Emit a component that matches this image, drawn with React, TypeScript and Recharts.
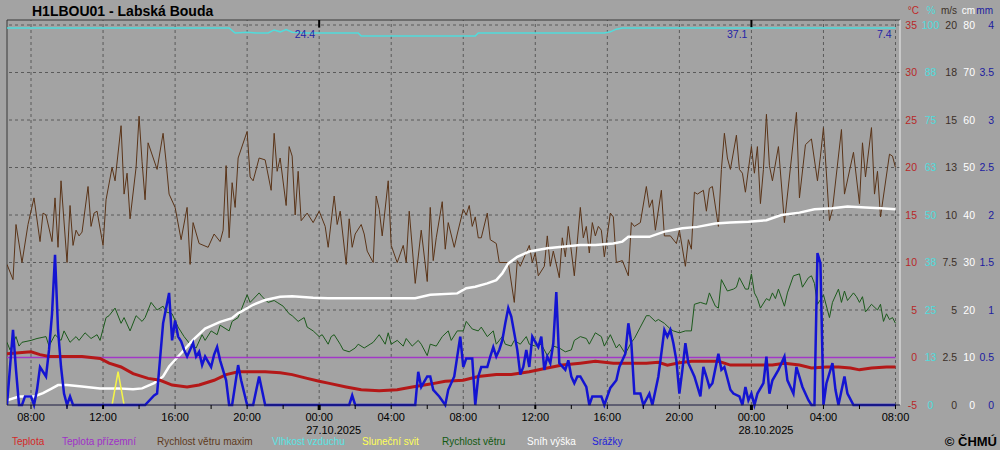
import React from "react";
import { ComposedChart, Line, XAxis, YAxis, ReferenceLine, ReferenceDot } from "recharts";

type Pt = [number, number];

// x = 10-minute step index, step 0 = 26.10.2025 06:40
const START_DAY = 26;
const START_MIN = 400;
const X_MAX = 297.5;

const temperature: Pt[] = [[0,0.4],[8,0.6],[11,0.3],[14,0.1],[20,0.1],[25,0.1],[31,-0.1],[34,-0.6],[38,-1.0],[42,-1.7],[47,-2.2],[51,-2.4],[55,-2.9],[60,-3.1],[64,-2.9],[69,-2.4],[73,-1.8],[77,-1.5],[82,-1.5],[86,-1.5],[91,-1.6],[95,-1.8],[100,-2.2],[104,-2.5],[107,-2.7],[113,-3.1],[118,-3.4],[124,-3.5],[130,-3.4],[135,-3.1],[141,-2.8],[146,-2.5],[152,-2.4],[157,-2.0],[163,-1.8],[168,-1.8],[174,-1.5],[180,-1.1],[185,-0.8],[191,-0.6],[196,-0.4],[202,-0.6],[207,-0.6],[213,-0.6],[217,-0.5],[220,-0.8],[224,-0.55],[228,-0.4],[233,-0.4],[237,-0.4],[241,-0.8],[246,-0.8],[250,-0.8],[255,-0.8],[259,-0.6],[264,-0.8],[268,-1.1],[273,-1.0],[277,-1.0],[281,-1.1],[284,-1.3],[288,-1.1],[293,-1.0],[296,-1.0]];

const groundTemp: Pt[] = [[0,0],[296,0]];

const windMax: Pt[] = [[0,7.4],[2,6.6],[3,9.5],[5,7.5],[7,9.5],[9,10.9],[11,8.6],[12,10.1],[13,10.0],[15,8.6],[16,10.9],[17,8.3],[18,11.8],[20,7.5],[21,10.5],[22,8.4],[23,9.2],[24,8.9],[25,9.1],[27,11.5],[28,9.4],[29,10.1],[30,10.2],[32,8.4],[33,10.8],[35,12.5],[36,11.8],[38,14.7],[39,11.1],[40,12.2],[41,9.8],[43,12.5],[44,15.2],[45,12.8],[46,10.8],[47,13.8],[50,12.4],[52,14.3],[53,12.8],[54,11.1],[56,10.4],[58,8.7],[60,10.4],[61,7.4],[62,9.6],[64,8.5],[67,8.3],[69,9.0],[71,8.6],[72,9.2],[73,12.6],[74,8.8],[75,11.7],[76,10.4],[77,13.0],[80,14.4],[81,12.0],[82,11.8],[84,13.0],[86,12.9],[88,11.3],[89,14.3],[90,12.3],[91,13.0],[93,10.5],[94,13.6],[95,13.1],[96,10.0],[97,12.3],[98,9.7],[100,10.1],[102,9.6],[104,10.2],[106,9.4],[107,8.3],[109,11.0],[110,9.5],[111,10.2],[113,7.4],[114,9.8],[115,8.3],[116,9.0],[118,9.5],[119,9.0],[120,8.1],[122,7.5],[123,11.0],[124,10.3],[125,8.9],[127,11.8],[128,8.4],[130,7.5],[132,8.4],[133,7.5],[134,10.2],[136,6.4],[138,9.2],[140,6.5],[141,10.4],[142,7.6],[143,8.8],[145,10.7],[146,8.2],[147,9.6],[149,8.3],[150,9.0],[152,10.3],[153,10.0],[154,10.5],[155,9.4],[156,9.9],[157,8.8],[158,8.8],[160,10.1],[161,8.7],[163,8.5],[164,7.5],[167,7.5],[169,5.4],[170,7.6],[171,7.3],[174,8.4],[175,7.5],[176,8.0],[177,6.8],[179,7.3],[180,8.9],[181,7.3],[182,8.1],[184,6.7],[185,8.8],[186,7.8],[187,9.4],[189,6.8],[191,10.4],[192,8.8],[193,9.4],[194,8.0],[195,9.6],[196,8.9],[197,9.4],[198,9.2],[199,7.8],[201,10.1],[202,9.9],[203,7.5],[205,7.6],[207,6.8],[208,9.6],[209,9.4],[211,9.6],[213,11.5],[214,10.4],[215,10.8],[216,9.2],[218,11.3],[219,8.9],[221,8.9],[223,8.5],[224,9.2],[226,7.3],[227,8.7],[228,8.2],[229,11.2],[230,11.1],[232,11.3],[233,10.2],[234,11.4],[235,11.5],[237,9.4],[238,12.4],[239,14.3],[240,13.0],[241,12.4],[243,14.2],[244,12.4],[245,12.2],[246,11.2],[248,13.6],[249,12.2],[250,13.6],[251,10.6],[252,12.4],[253,15.3],[254,12.6],[255,11.8],[257,13.6],[259,9.6],[261,12.5],[263,15.4],[264,10.9],[266,13.7],[268,14.0],[270,11.8],[271,13.1],[272,14.6],[274,9.7],[275,10.3],[278,14.5],[279,11.1],[282,13.3],[284,10.6],[285,13.8],[286,12.0],[288,14.6],[289,11.1],[290,12.3],[291,9.9],[294,13.2],[295,13.1],[296,12.5]];

const humidity: Pt[] = [[0,99.2],[74,99.2],[76,97.9],[80,98.1],[83,97.9],[87,97.9],[89,98.7],[91,98.2],[93,98.8],[95,98.1],[100,97.9],[117,97.9],[118,97.1],[156,97.1],[157,97.9],[199,97.9],[201,98.2],[203,98.9],[205,99.2],[296,99.2]];

const sunshine: Pt[] = [[35,0],[37,0.35],[39,0]];

const wind: Pt[] = [[0,3.3],[1,2.9],[3,3.6],[4,3.1],[5,3.3],[8,3.4],[10,3.5],[13,3.6],[14,3.1],[16,3.7],[18,3.4],[19,3.9],[21,3.3],[23,3.6],[24,3.4],[26,3.8],[28,3.5],[30,3.7],[31,3.4],[33,4.6],[34,4.7],[36,5.1],[38,4.3],[39,4.6],[41,3.9],[43,4.7],[45,4.4],[46,4.6],[48,5.4],[50,5.0],[52,5.2],[53,4.9],[55,4.8],[57,4.1],[59,3.6],[61,3.2],[63,3.0],[65,3.7],[66,3.4],[68,3.9],[70,3.7],[71,4.2],[74,3.9],[75,4.4],[77,4.6],[80,5.8],[81,5.4],[84,5.9],[85,5.7],[87,5.4],[89,5.5],[90,5.4],[92,5.2],[94,4.8],[95,4.7],[97,4.4],[99,4.6],[100,4.1],[102,3.9],[104,3.6],[105,3.7],[107,3.2],[108,3.6],[109,3.7],[111,3.2],[112,2.9],[114,2.8],[116,3.0],[117,3.2],[119,3.0],[121,3.2],[122,3.3],[124,3.7],[126,3.2],[127,3.8],[128,3.2],[130,3.4],[132,3.1],[133,3.5],[135,3.1],[137,3.4],[138,3.2],[140,2.6],[141,3.2],[143,3.1],[145,3.6],[147,3.9],[148,3.4],[150,3.9],[152,3.9],[153,4.4],[155,4.0],[157,3.9],[158,4.1],[160,3.6],[162,3.9],[163,3.2],[165,3.6],[166,3.2],[168,3.1],[169,3.4],[171,3.2],[173,3.6],[174,3.2],[176,3.1],[178,3.2],[180,2.6],[182,3.1],[184,3.0],[186,2.8],[188,2.9],[189,3.4],[191,3.6],[193,3.5],[194,3.2],[196,3.8],[198,3.6],[199,3.1],[201,3.7],[203,3.0],[204,3.2],[206,2.7],[208,3.3],[209,3.5],[211,4.1],[213,4.7],[214,4.7],[216,4.4],[217,4.5],[219,4.3],[221,4.0],[222,3.9],[224,3.8],[226,3.9],[228,3.9],[229,5.3],[231,5.4],[233,5.3],[234,5.9],[236,5.2],[237,5.1],[238,6.6],[240,6.0],[242,6.1],[243,6.2],[244,6.7],[246,6.1],[247,6.1],[248,6.9],[249,5.9],[250,5.6],[251,5.1],[253,5.6],[254,5.5],[255,5.9],[256,5.6],[257,6.1],[259,5.2],[260,5.9],[262,6.8],[264,6.9],[265,6.2],[267,6.7],[268,6.8],[269,6.4],[270,5.3],[272,5.8],[274,4.6],[275,5.4],[277,6.1],[278,5.4],[279,6.0],[280,5.5],[282,5.9],[283,5.7],[284,5.4],[285,5.7],[286,4.9],[288,5.3],[290,5.0],[291,5.3],[292,4.4],[293,4.8],[294,4.5],[295,4.6],[296,4.3]];

const snow: Pt[] = [[0,1.0],[4,1.8],[9,1.8],[12,2.5],[15,3.5],[17,4.2],[20,4.2],[25,3.9],[31,3.5],[37,3.5],[42,3.3],[45,3.5],[49,4.6],[52,6.0],[54,8.1],[58,10.9],[62,13.7],[66,16.1],[71,17.5],[75,18.3],[77,19.3],[82,21.1],[86,22.1],[91,22.8],[95,22.9],[102,22.6],[107,22.5],[118,22.5],[127,22.5],[136,22.5],[141,23.2],[150,23.5],[153,24.6],[156,24.9],[160,25.6],[163,26.3],[165,27.7],[167,29.8],[170,31.2],[174,32.3],[180,33.0],[185,33.3],[191,33.7],[196,33.7],[202,34.0],[205,34.4],[207,35.4],[214,35.4],[219,36.5],[225,37.2],[230,37.5],[236,38.2],[241,38.4],[247,38.6],[253,38.9],[258,40.0],[264,40.5],[269,41.2],[275,41.4],[280,41.8],[286,41.6],[291,41.4],[296,41.2]];

const precip: Pt[] = [[0,0],[2,0.79],[3,0.37],[4,0],[5,0],[6,0.09],[8,0.09],[9,0],[10,0.16],[11,0.40],[13,0.30],[14,0.58],[15,0.96],[16,1.58],[17,0.79],[18,0.40],[19,0.12],[20,0],[21,0.09],[22,0],[46,0],[49,0.10],[50,0.12],[52,0.86],[54,1.18],[55,0.68],[56,0.89],[57,0.72],[58,0.67],[59,0.58],[60,0.51],[62,0.65],[63,0.51],[64,0.56],[65,0.42],[66,0.51],[68,0.40],[69,0.53],[70,0.61],[71,0.47],[73,0.26],[74,0],[75,0],[77,0.42],[78,0.26],[80,0],[82,0],[84,0.30],[86,0],[114,0],[115,0.10],[116,0],[136,0],[137,0.35],[138,0.19],[140,0.30],[141,0.30],[142,0.16],[144,0.09],[146,0],[147,0.16],[149,0.30],[151,0.72],[152,0.40],[153,0.49],[155,0.49],[156,0],[157,0.30],[158,0.40],[160,0.40],[161,0.51],[162,0.61],[163,0.51],[164,0.58],[165,0.68],[166,0.86],[167,1.02],[168,0.93],[170,0.58],[171,0.32],[172,0.40],[173,0.58],[174,0.40],[175,0.72],[177,0.61],[178,0.72],[179,0.37],[180,0.51],[181,0.44],[182,0.65],[183,1.19],[184,0.44],[186,0.37],[187,0.47],[188,0.30],[189,0.23],[190,0.30],[191,0.30],[193,0.19],[194,0],[195,0.09],[196,0.09],[198,0.09],[199,0],[201,0.18],[203,0.26],[204,0.40],[206,0.54],[207,0.86],[208,0.65],[209,0.12],[211,0.12],[212,0],[214,0.12],[215,0],[217,0.30],[219,0.79],[220,0.72],[221,0.79],[222,0.65],[223,0.47],[224,0.12],[225,0.37],[226,0.65],[227,0.44],[228,0.37],[229,0.30],[231,0.09],[232,0.40],[233,0.30],[234,0.19],[235,0.23],[237,0.54],[238,0.37],[239,0.40],[241,0.16],[242,0.12],[244,0.09],[245,0],[246,0.19],[247,0.05],[248,0.12],[249,0],[250,0.12],[252,0.23],[253,0.51],[254,0.12],[255,0.26],[257,0.37],[259,0.51],[260,0.26],[262,0.12],[263,0.40],[265,0.19],[267,0.05],[268,0],[269,0],[270,1.60],[271,1.49],[272,0],[273,0.23],[275,0.44],[276,0.16],[277,0],[279,0.30],[280,0.12],[282,0],[296,0]];

const dailyPrecip = [
  { k: 104, label: "24.4" },
  { k: 248, label: "37.1" },
  { k: 296, label: "7.4" },
];

const tempTicks = [-5, 0, 5, 10, 15, 20, 25, 30, 35];
const pctTicks = [0, 12.5, 25, 37.5, 50, 62.5, 75, 87.5, 100];
const pctTickLabels = ["0", "13", "25", "38", "50", "63", "75", "88", "100"];
const msTicks = [0, 2.5, 5, 7.5, 10, 12.5, 15, 17.5, 20];
const msTickLabels = ["0", "2.5", "5", "7.5", "10", "13", "15", "18", "20"];
const cmTicks = [0, 10, 20, 30, 40, 50, 60, 70, 80];
const mmTicks = [0, 0.5, 1, 1.5, 2, 2.5, 3, 3.5, 4];
const mmTickLabels = ["0", "0.5", "1", "1.5", "2", "2.5", "3", "3.5", "4"];
const xTicks = [8, 20, 32, 44, 56, 68, 80, 92, 104, 116, 128, 140, 152, 164, 176, 188, 200, 212, 224, 236, 248, 260, 272, 284, 296];
const gridSteps = [8, 32, 56, 80, 104, 128, 152, 176, 200, 224, 248, 272, 296];
const midnightSteps = [104, 248];

const legendItems = [
  { name: "Teplota", color: "#d42828" },
  { name: "Teplota přízemní", color: "#a030c8" },
  { name: "Rychlost větru maxim", color: "#5e3a1c" },
  { name: "Vlhkost vzduchu", color: "#58e4e4" },
  { name: "Sluneční svit", color: "#ffff58" },
  { name: "Rychlost větru", color: "#125a12" },
  { name: "Sníh výška", color: "#ffffff" },
  { name: "Srážky", color: "#2424d8" },
];
const legendX = [12, 62, 157, 272, 362, 442, 527, 592];

const FONT = '"Liberation Sans", Arial, sans-serif';
const BG = "#a3a3a3";
const GRID = "#5a5a5a";

// axis ids sort alphabetically in the layout, so they carry an order prefix
const AX_C = "a_degC";
const AX_PCT = "b_pct";
const AX_MS = "c_ms";
const AX_CM = "d_cm";
const AX_MM = "e_mm";

// plot frame extends 5px above the top tick line (380px between -5 and 35)
const frameTop = (min: number, max: number) => min + ((max - min) * 385) / 380;
const TEMP_TOP = frameTop(-5, 35);

const rows = (pts: Pt[]) => pts.map(([k, v]) => ({ k, v }));

const rightTick =
  (color: string, dx: number, anchor: "start" | "middle" | "end", ticks?: number[], labels?: string[]) =>
  (props: any) => {
    const { x, y, payload } = props;
    const idx = ticks ? ticks.indexOf(payload.value) : -1;
    const txt = labels && idx >= 0 ? labels[idx] : String(payload.value);
    return (
      <text x={x + dx} y={y} dy="0.36em" textAnchor={anchor} fill={color} fontSize={10.5} fontFamily={FONT}>
        {txt}
      </text>
    );
  };

const TimeTick = (props: any) => {
  const { x, y, payload } = props;
  const k: number = payload.value;
  const m = START_MIN + k * 10;
  const day = Math.floor(m / 1440);
  const inDay = m % 1440;
  const hh = Math.floor(inDay / 60);
  const midnight = inDay === 0;
  const noon = inDay === 720;
  const labeled = (k - 8) % 24 === 0;
  return (
    <g>
      <line x1={x} x2={x} y1={y} y2={y + (midnight ? 5 : 4)} stroke="#000" strokeWidth={midnight ? 3 : noon ? 2 : 1} />
      {labeled && (
        <text x={x} y={y + 16} textAnchor="middle" fontSize={11} fill="#000" fontFamily={FONT}>
          {`${String(hh).padStart(2, "0")}:00`}
        </text>
      )}
      {labeled && midnight && (
        <text x={x - 13} y={y + 29} fontSize={11} fill="#000" fontFamily={FONT}>
          {`${START_DAY + day}.10.2025`}
        </text>
      )}
    </g>
  );
};

const lineProps = { type: "linear" as const, dot: false, activeDot: false, isAnimationActive: false, dataKey: "v" };

export default function App() {
  return (
    <div
      style={{
        position: "absolute",
        left: 0,
        top: 0,
        width: 1000,
        height: 450,
        background: BG,
        fontFamily: FONT,
        overflow: "hidden",
      }}
    >
      <svg width={1000} height={450} style={{ position: "absolute", left: 0, top: 0 }}>
        <text x={32} y={16} fontSize={14} fontWeight="bold" fill="#000" fontFamily={FONT}>
          H1LBOU01 - Labská Bouda
        </text>
        <text x={919} y={14} fontSize={10} textAnchor="end" fill="#c02828" fontFamily={FONT}>°C</text>
        <text x={931} y={14} fontSize={10} textAnchor="middle" fill="#50dcdc" fontFamily={FONT}>%</text>
        <text x={957} y={14} fontSize={10} textAnchor="end" fill="#3c3028" fontFamily={FONT}>m/s</text>
        <text x={975} y={14} fontSize={10} textAnchor="end" fill="#ffffff" fontFamily={FONT}>cm</text>
        <text x={993} y={14} fontSize={10} textAnchor="end" fill="#1c1ca0" fontFamily={FONT}>mm</text>
        {legendItems.map((it, i) => (
          <text key={it.name} x={legendX[i]} y={445} fontSize={10} fill={it.color} fontFamily={FONT}>
            {it.name}
          </text>
        ))}
        <text x={997} y={446} fontSize={13} fontWeight="bold" textAnchor="end" fill="#000" fontFamily={FONT}>
          © ČHMÚ
        </text>
      </svg>
      <div style={{ position: "absolute", left: 0, top: 0 }}>
        <ComposedChart width={1000} height={450} margin={{ top: 20, right: 6, bottom: 0, left: 7 }}>
          <XAxis
            type="number"
            dataKey="k"
            domain={[0, X_MAX]}
            ticks={xTicks}
            interval={0}
            tickSize={0}
            tickMargin={0}
            tickLine={false}
            tick={<TimeTick />}
            height={45}
            axisLine={{ stroke: "#1a1a40", strokeWidth: 1 }}
            allowDataOverflow
          />
          <YAxis
            yAxisId={AX_C}
            orientation="right"
            type="number"
            domain={[-5, TEMP_TOP]}
            ticks={tempTicks}
            interval={0}
            width={17}
            tickSize={0}
            tickMargin={0}
            axisLine={false}
            tickLine={false}
            tick={rightTick("#b82828", 17, "end")}
          />
          <YAxis
            yAxisId={AX_PCT}
            orientation="right"
            type="number"
            domain={[0, frameTop(0, 100)]}
            ticks={pctTicks}
            interval={0}
            width={23}
            tickSize={0}
            tickMargin={0}
            axisLine={false}
            tickLine={false}
            tick={rightTick("#50dcdc", 13.5, "middle", pctTicks, pctTickLabels)}
          />
          <YAxis
            yAxisId={AX_MS}
            orientation="right"
            type="number"
            domain={[0, frameTop(0, 20)]}
            ticks={msTicks}
            interval={0}
            width={17}
            tickSize={0}
            tickMargin={0}
            axisLine={false}
            tickLine={false}
            tick={rightTick("#3c3028", 17, "end", msTicks, msTickLabels)}
          />
          <YAxis
            yAxisId={AX_CM}
            orientation="right"
            type="number"
            domain={[0, frameTop(0, 80)]}
            ticks={cmTicks}
            interval={0}
            width={18}
            tickSize={0}
            tickMargin={0}
            axisLine={false}
            tickLine={false}
            tick={rightTick("#ffffff", 18, "end")}
          />
          <YAxis
            yAxisId={AX_MM}
            orientation="right"
            type="number"
            domain={[0, frameTop(0, 4)]}
            ticks={mmTicks}
            interval={0}
            width={19}
            tickSize={0}
            tickMargin={0}
            axisLine={false}
            tickLine={false}
            tick={rightTick("#1c1ca0", 19, "end", mmTicks, mmTickLabels)}
          />

          {tempTicks
            .filter((v) => v > 0)
            .map((v) => (
              <ReferenceLine key={`h${v}`} yAxisId={AX_C} y={v} stroke={GRID} strokeDasharray="3 3" />
            ))}
          {gridSteps.map((k) => (
            <ReferenceLine key={`v${k}`} yAxisId={AX_C} x={k} stroke={GRID} strokeDasharray="3 3" />
          ))}
          <ReferenceLine yAxisId={AX_C} y={TEMP_TOP} stroke="#383838" />
          <ReferenceLine yAxisId={AX_C} x={0} stroke="#383838" />
          <ReferenceLine yAxisId={AX_C} x={X_MAX} stroke="#eeeeee" />
          {midnightSteps.map((k) => (
            <ReferenceLine
              key={`m${k}`}
              yAxisId={AX_C}
              segment={[
                { x: k, y: TEMP_TOP },
                { x: k, y: TEMP_TOP - 0.8 },
              ]}
              stroke="#000"
              strokeWidth={2}
            />
          ))}

          <Line {...lineProps} data={rows(humidity)} name="Vlhkost vzduchu" yAxisId={AX_PCT} stroke="#50dcdc" strokeWidth={1.5} />
          <Line {...lineProps} data={rows(windMax)} name="Rychlost větru maxim" yAxisId={AX_MS} stroke="#5a3418" strokeWidth={1} />
          <Line {...lineProps} data={rows(wind)} name="Rychlost větru" yAxisId={AX_MS} stroke="#1c5a1c" strokeWidth={1} />
          <Line {...lineProps} data={rows(snow)} name="Sníh výška" yAxisId={AX_CM} stroke="#ffffff" strokeWidth={2.5} />
          <Line {...lineProps} data={rows(groundTemp)} name="Teplota přízemní" yAxisId={AX_C} stroke="#a238c8" strokeWidth={1.3} />
          <Line {...lineProps} data={rows(temperature)} name="Teplota" yAxisId={AX_C} stroke="#b41818" strokeWidth={3} />
          <Line {...lineProps} data={rows(sunshine)} name="Sluneční svit" yAxisId={AX_MM} stroke="#f4f448" strokeWidth={1.5} />
          <Line {...lineProps} data={rows(precip)} name="Srážky" yAxisId={AX_MM} stroke="#1414d2" strokeWidth={2.5} />

          {dailyPrecip.map((d) => (
            <ReferenceDot
              key={`p${d.k}`}
              yAxisId={AX_C}
              x={d.k}
              y={34.0}
              r={1}
              fill="none"
              stroke="none"
              label={{ value: d.label, position: "left", offset: 3, fill: "#2424a8", fontSize: 10.5, fontFamily: FONT }}
            />
          ))}
        </ComposedChart>
      </div>
    </div>
  );
}
